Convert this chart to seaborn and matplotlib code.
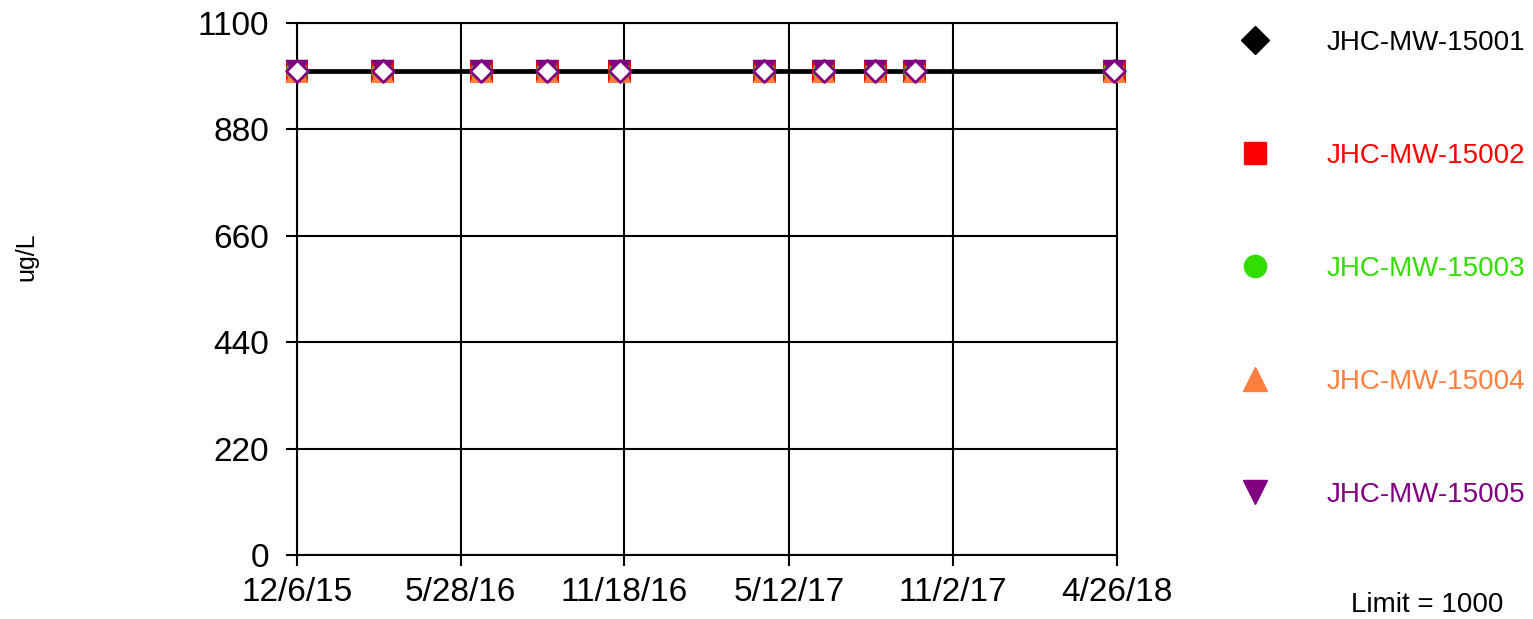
import pandas as pd
import matplotlib.pyplot as plt
from matplotlib.lines import Line2D
import seaborn as sns

# Stílus
sns.set_style("white", {"text.color": "black", "xtick.color": "black", "ytick.color": "black"})
plt.rcParams["font.family"] = ["Liberation Sans", "DejaVu Sans"]

# Adatok
wells = ["JHC-MW-15001", "JHC-MW-15002", "JHC-MW-15003", "JHC-MW-15004", "JHC-MW-15005"]
well_colors = ["#000000", "#ff0000", "#33dd00", "#ff7f3f", "#800080"]
well_markers = ["D", "s", "o", "^", "v"]
sample_dates = ["2015-12-06", "2016-03-06", "2016-06-19", "2016-08-28", "2016-11-13",
                "2017-04-16", "2017-06-18", "2017-08-12", "2017-09-23", "2018-04-23"]
mw15001 = [1000, 1000, 1000, 1000, 1000, 1000, 1000, 1000, 1000, 1000]
mw15002 = [1000, 1000, 1000, 1000, 1000, 1000, 1000, 1000, 1000, 1000]
mw15003 = [1000, 1000, 1000, 1000, 1000, 1000, 1000, 1000, 1000, 1000]
mw15004 = [1000, 1000, 1000, 1000, 1000, 1000, 1000, 1000, 1000, 1000]
mw15005 = [1000, 1000, 1000, 1000, 1000, 1000, 1000, 1000, 1000, 1000]
limit = 1000
x_tick_dates = ["2015-12-06", "2016-05-28", "2016-11-18", "2017-05-12", "2017-11-02", "2018-04-26"]
x_tick_labels = ["12/6/15", "5/28/16", "11/18/16", "5/12/17", "11/2/17", "4/26/18"]
y_ticks = [0, 220, 440, 660, 880, 1100]

series = [mw15001, mw15002, mw15003, mw15004, mw15005]
df = pd.concat([pd.DataFrame({"Kút": w, "Dátum": pd.to_datetime(sample_dates), "Érték": v})
                for w, v in zip(wells, series)], ignore_index=True)

fig = plt.figure(figsize=(15.33, 6.19), dpi=100)
ax = fig.add_axes([0.1937, 0.1034, 0.5350, 0.8594])

# Rajzolási sorrend: négyzet, kör, háromszögek, végül az üres rombusz
draw_order = [1, 2, 3, 4, 0]
sizes = {"D": 125, "s": 270, "o": 250, "^": 280, "v": 280}
for i in draw_order:
    sub = df[df["Kút"] == wells[i]]
    if well_markers[i] == "D":
        sns.scatterplot(data=sub, x="Dátum", y="Érték", marker="D", s=sizes["D"],
                        facecolor="white", edgecolor="#800080", linewidth=2,
                        ax=ax, zorder=5, clip_on=False)
    else:
        sns.scatterplot(data=sub, x="Dátum", y="Érték", marker=well_markers[i],
                        s=sizes[well_markers[i]], color=well_colors[i], edgecolor="none",
                        ax=ax, zorder=4, clip_on=False)

ax.axhline(limit, color="black", linewidth=3.4, zorder=3)

# Tengelyek
ax.set_xlim(pd.Timestamp(x_tick_dates[0]), pd.Timestamp(x_tick_dates[-1]))
ax.set_ylim(y_ticks[0], y_ticks[-1])
ax.set_xticks(pd.to_datetime(x_tick_dates))
ax.set_xticklabels(x_tick_labels)
ax.set_yticks(y_ticks)
ax.grid(True, color="black", linewidth=1.5)
for sp in ax.spines.values():
    sp.set_color("black")
    sp.set_linewidth(1.5)
ax.tick_params(direction="out", length=8, width=1.5, color="black", labelcolor="black",
               labelsize=24, bottom=True, left=True)
ax.tick_params(axis="y", pad=12)
ax.tick_params(axis="x", pad=8)
ax.set_xlabel("")
ax.set_ylabel("")
fig.text(26 / 1533, 1 - 257 / 619, "ug/L", rotation=90, ha="center", va="center", fontsize=18)

# Jelmagyarázat
handles = [Line2D([], [], linestyle="none", marker=m, color=c, markersize=ms)
           for m, c, ms in zip(well_markers, well_colors, [14, 16, 16, 17, 17])]
fig.legend(handles, wells, loc="upper left", bbox_to_anchor=(1227 / 1533, 1 - 30 / 619),
           frameon=False, fontsize=20, labelcolor=well_colors, labelspacing=3.13,
           handletextpad=1.6, borderpad=0, borderaxespad=0)
fig.text(1427 / 1533, 1 - 605 / 619, f"Limit = {limit}", ha="center", va="center", fontsize=20)

fig.savefig("out.png", dpi=100)
